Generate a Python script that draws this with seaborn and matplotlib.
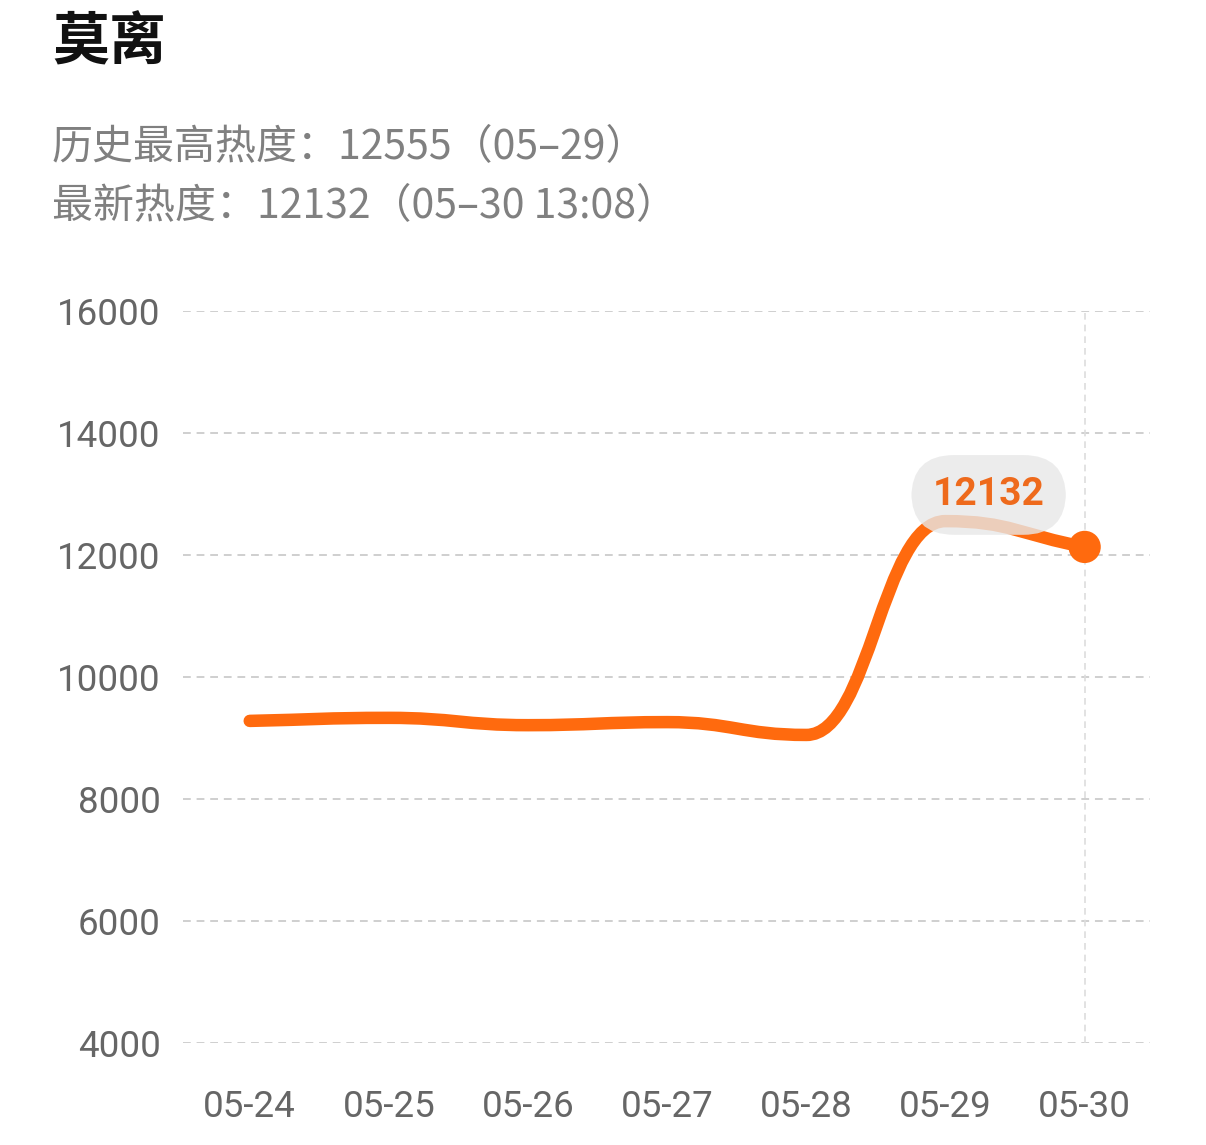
import numpy as np
import pandas as pd
import matplotlib
matplotlib.use("Agg")
import matplotlib.pyplot as plt
import seaborn as sns
from matplotlib.path import Path
from matplotlib.patches import PathPatch

# values
dates = ["05-24", "05-25", "05-26", "05-27", "05-28", "05-29", "05-30"]
heat = [9280, 9330, 9210, 9260, 9050, 12555, 12132]
y_ticks = [4000, 6000, 8000, 10000, 12000, 14000, 16000]
title = "莫离"
info_lines = ["历史最高热度：12555（05–29）", "最新热度：12132（05–30 13:08）"]
last_label = "12132"

orange = "#FF6A0E"
grid_gray = "#cfcfcf"

sns.set_theme(style="white")
plt.rcParams['font.family'] = ['Noto Sans CJK SC', 'DejaVu Sans']

df = pd.DataFrame({"day": np.arange(len(dates)), "heat": heat})

fig = plt.figure(figsize=(12.06, 11.45), dpi=100)
ax = fig.add_axes([0.1517, 0.0891, 0.8019, 0.6393])

# smooth monotone curve through the daily values, drawn as bezier path
x = df["day"].to_numpy(dtype=float)
y = df["heat"].to_numpy(dtype=float)
d = np.diff(y)
m = np.zeros_like(y)
m[0], m[-1] = d[0], d[-1]
for i in range(1, len(y) - 1):
    if d[i - 1] * d[i] > 0:
        m[i] = 2 / (1 / d[i - 1] + 1 / d[i])
k = 0.46  # handle length, fraction of one day
verts = [(x[0], y[0])]
codes = [Path.MOVETO]
for i in range(len(x) - 1):
    verts += [(x[i] + k, y[i] + m[i] * k),
              (x[i + 1] - k, y[i + 1] - m[i + 1] * k),
              (x[i + 1], y[i + 1])]
    codes += [Path.CURVE4] * 3
line = PathPatch(Path(verts, codes), fill=False, edgecolor=orange, lw=9,
                 capstyle="round", joinstyle="round", zorder=3)
ax.add_patch(line)

# end point
sns.scatterplot(data=df.iloc[[-1]], x="day", y="heat", ax=ax, s=540,
                color=orange, edgecolor="none", zorder=5, legend=False)

# grid
for t in y_ticks:
    ax.axhline(t, color=grid_gray, lw=1.4, dashes=(4, 3), zorder=1)
ax.axvline(x[-1], color="#dddddd", lw=1.2, dashes=(4, 3), zorder=1)

# bubble label for the latest value
ax.annotate(last_label, xy=(x[-1], y[-1]), xytext=(-96, 52),
            textcoords="offset pixels", ha="center", va="center",
            fontsize=28, color="#EE6A1C", family=["Roboto", "DejaVu Sans"],
            fontweight="bold", zorder=6,
            bbox=dict(boxstyle="round,pad=0.55,rounding_size=1.1",
                      fc="#e8e8e8", ec="none", alpha=0.8))

ax.set_xlim(-0.48, 6.47)
ax.set_ylim(4000, 16000)
ax.set_xticks(x)
ax.set_xticklabels(dates)
ax.set_yticks(y_ticks)
ax.set_yticklabels([str(t) for t in y_ticks])
ax.tick_params(axis="both", length=0, labelsize=26.5, labelcolor="#666666")
ax.tick_params(axis="x", pad=33)
ax.tick_params(axis="y", pad=16)
for lab in ax.get_xticklabels() + ax.get_yticklabels():
    lab.set_family(["Roboto", "DejaVu Sans"])
ax.set_xlabel("")
ax.set_ylabel("")
sns.despine(ax=ax, left=True, bottom=True)

# header texts
fig.text(52 / 1206, 1 - 43 / 1145, title, fontsize=41, fontweight="bold",
         color="#111111", va="center", ha="left")
fig.text(52 / 1206, 1 - 148 / 1145, info_lines[0], fontsize=29.5,
         color="#808080", va="center", ha="left")
fig.text(52 / 1206, 1 - 207 / 1145, info_lines[1], fontsize=29.5,
         color="#808080", va="center", ha="left")

fig.savefig("out.png", dpi=100, facecolor="white")
